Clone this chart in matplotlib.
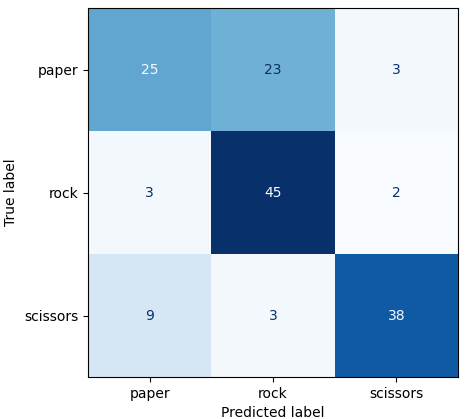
import matplotlib
matplotlib.use("Agg")
import matplotlib.pyplot as plt
import numpy as np

labels = ["paper", "rock", "scissors"]
row_paper = [25, 23, 3]
row_rock = [3, 45, 2]
row_scissors = [9, 3, 38]

cm = np.array([row_paper, row_rock, row_scissors])

fig = plt.figure(figsize=(4.65, 4.19), dpi=100)
ax = fig.add_axes([88/465, 1-377/419, (458-88)/465, (377-8)/419])
cmap = plt.get_cmap("Blues")
ax.imshow(cm, interpolation="nearest", cmap=cmap, aspect="auto")
thresh = (cm.max() + cm.min()) / 2.0
cmax, cmin = cmap(1.0), cmap(0.0)
for i in range(cm.shape[0]):
    for j in range(cm.shape[1]):
        color = cmax if cm[i, j] < thresh else cmin
        ax.text(j, i, str(cm[i, j]), ha="center", va="center", color=color)
ax.set_xticks(range(len(labels)))
ax.set_xticklabels(labels)
ax.set_yticks(range(len(labels)))
ax.set_yticklabels(labels)
ax.set_xlabel("Predicted label")
ax.set_ylabel("True label")
fig.savefig("out.png", dpi=100)
